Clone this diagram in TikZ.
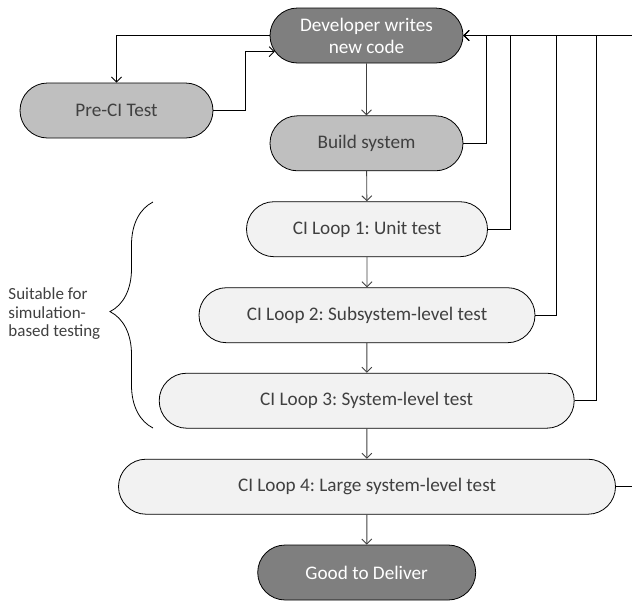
\documentclass[tikz,border=0pt]{standalone}
\usepackage{fontspec}
\setmainfont{Carlito}
\frenchspacing
\usetikzlibrary{arrows.meta, shapes.misc, decorations.pathreplacing}

\definecolor{darkbox}{HTML}{7F7F7F}
\definecolor{midbox}{HTML}{BFBFBF}
\definecolor{lightbox}{HTML}{F2F2F2}
\definecolor{textgray}{HTML}{404040}

\tikzset{
  box/.style={rounded rectangle, draw=black, line width=0.8pt, minimum height=55pt,
    inner sep=0pt, text=textgray, align=center, font=\fontsize{19.2}{22}\selectfont},
  darkstep/.style={box, fill=darkbox, text=white},
  midstep/.style={box, fill=midbox},
  loopstep/.style={box, fill=lightbox},
  note/.style={inner sep=0pt, text=textgray, align=left, font=\fontsize{17}{18.5}\selectfont},
}

\begin{document}
\begin{tikzpicture}[x=1pt,y=-1pt,>={Straight Barb[length=5pt,width=10pt]},line width=0.9pt]
  \useasboundingbox (0,0) rectangle (632,600); % 枠

  % ノード
  \node[darkstep, minimum width=193pt] (dev) at (366.5,35.5) {Developer writes\\new code};
  \node[midstep, minimum width=193pt] (preci) at (116.5,110.5) {Pre-CI Test};
  \node[midstep, minimum width=193pt] (build) at (366.5,143.3) {Build system};
  \node[loopstep, minimum width=241pt] (loop1) at (367,229.2) {CI Loop 1: Unit test};
  \node[loopstep, minimum width=336pt] (loop2) at (367,315.2) {CI Loop 2: Subsystem-level test};
  \node[loopstep, minimum width=415pt] (loop3) at (366.7,400.7) {CI Loop 3: System-level test};
  \node[loopstep, minimum width=497pt] (loop4) at (367,486.7) {CI Loop 4: Large system-level test};
  \node[darkstep, minimum width=218pt] (good) at (366.7,572.5) {Good to Deliver};

  % 下向きの矢印
  \foreach \a/\b in {dev/build, build/loop1, loop1/loop2, loop2/loop3, loop3/loop4, loop4/good} {
    \draw[->, draw=black!75] (\a) -- (\b);
  }

  % Pre-CI
  \draw[->] (dev.west) -| (preci.north);
  \draw[->] (preci.east) -- ++(32,0) |- (dev.190);

  % フィードバック
  \foreach \n/\xx in {build/486, loop1/510, loop2/556.5, loop3/596, loop4/633} {
    \draw[->] (\n.east) -| (\xx,0 |- dev.east) -- (dev.east);
  }

  % 括弧
  \coordinate (braceB) at (153,428);
  \coordinate (braceT) at (153,202);
  \draw[decorate, decoration={brace, amplitude=43pt, aspect=0.515}, line width=0.8pt] (braceB) -- (braceT);
  \node[note, anchor=west] (simnote) at (8,314) {Suitable for\\simulation-\\based testing};

\end{tikzpicture}
\end{document}
